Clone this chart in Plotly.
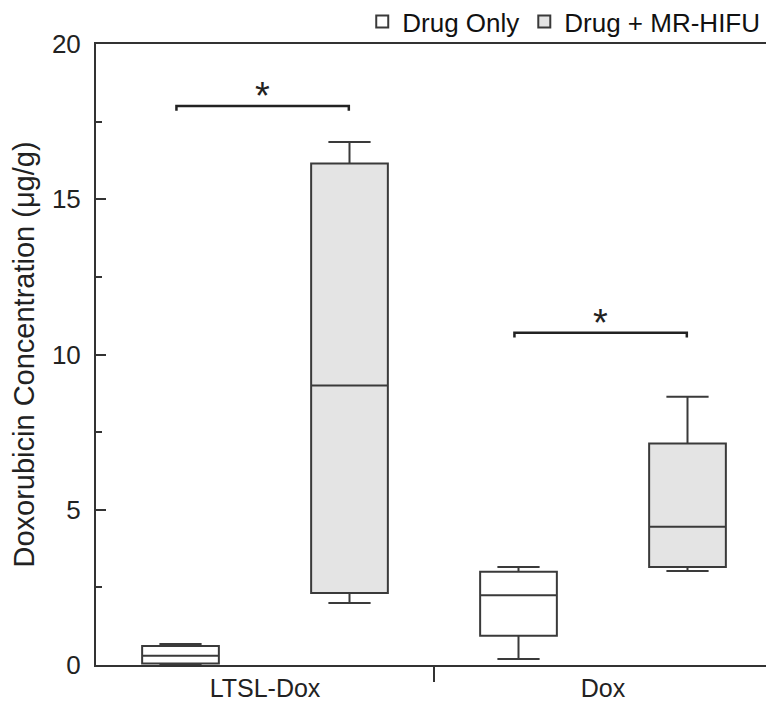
import plotly.graph_objects as go

# ---- data ----
categories = ["LTSL-Dox", "Dox"]
series_names = ["Drug Only", "Drug + MR-HIFU"]

drug_only_lower = [0.00, 0.19]
drug_only_q1 = [0.05, 0.94]
drug_only_median = [0.30, 2.25]
drug_only_q3 = [0.61, 3.00]
drug_only_upper = [0.68, 3.16]

hifu_lower = [2.00, 3.03]
hifu_q1 = [2.32, 3.16]
hifu_median = [9.00, 4.45]
hifu_q3 = [16.15, 7.13]
hifu_upper = [16.84, 8.64]

# significance brackets: (category, bracket height)
sig_categories = ["LTSL-Dox", "Dox"]
sig_levels = [18.0, 10.7]
sig_labels = ["*", "*"]

y_tick_values = [0, 5, 10, 15, 20]

# ---- styles ----
FONT = "Liberation Sans, Arial, Helvetica, sans-serif"
LINE = "#3a3a3a"
AX = "#333333"

fig = go.Figure()
fig.add_trace(go.Box(
    name=series_names[0], x=categories,
    lowerfence=drug_only_lower, q1=drug_only_q1, median=drug_only_median,
    q3=drug_only_q3, upperfence=drug_only_upper,
    fillcolor="#ffffff", line=dict(color=LINE, width=2),
    whiskerwidth=0.55, boxpoints=False, hoverinfo="skip",
))
fig.add_trace(go.Box(
    name=series_names[1], x=categories,
    lowerfence=hifu_lower, q1=hifu_q1, median=hifu_median,
    q3=hifu_q3, upperfence=hifu_upper,
    fillcolor="#e4e4e4", line=dict(color=LINE, width=2),
    whiskerwidth=0.55, boxpoints=False, hoverinfo="skip",
))

shapes = []
annotations = []
for cat, lvl, lab in zip(sig_categories, sig_levels, sig_labels):
    i = categories.index(cat)
    x1, x2 = i - 0.262, i + 0.248
    shapes.append(dict(
        type="path", xref="x", yref="y",
        path=f"M {x1},{lvl - 0.15} L {x1},{lvl} L {x2},{lvl} L {x2},{lvl - 0.15}",
        line=dict(color="#222222", width=2.5),
    ))
    annotations.append(dict(
        x=(x1 + x2) / 2, y=lvl, xref="x", yref="y", text=lab, showarrow=False,
        yanchor="bottom", yshift=-13, font=dict(family=FONT, size=38, color="#222222"),
    ))

# divider tick between the two groups on the x axis
shapes.append(dict(
    type="line", xref="paper", yref="paper", x0=0.5, x1=0.5, y0=0, y1=-17 / 621,
    line=dict(color=AX, width=2),
))

fig.update_layout(
    width=766, height=696,
    margin=dict(l=88, r=2, t=36, b=39, autoexpand=False),
    paper_bgcolor="white", plot_bgcolor="white",
    font=dict(family=FONT, size=24, color="#222222"),
    boxmode="group", boxgap=0.0, boxgroupgap=0.546,
    showlegend=True,
    legend=dict(
        orientation="h", x=0.99, xanchor="right", y=1.036, yanchor="middle",
        font=dict(family=FONT, size=26, color="#111111"),
        bgcolor="rgba(0,0,0,0)", itemclick=False, itemdoubleclick=False,
        traceorder="normal", tracegroupgap=0,
    ),
    shapes=shapes,
    annotations=annotations,
)

fig.update_xaxes(
    type="category", categoryorder="array", categoryarray=categories,
    range=[-0.5, 1.5], showline=True, linecolor=AX, linewidth=2, mirror=True,
    ticks="", showgrid=False, zeroline=False, automargin=False,
    tickfont=dict(family=FONT, size=25, color="#222222"),
)
fig.update_yaxes(
    range=[0, 20], tickmode="array", tickvals=y_tick_values,
    ticks="inside", ticklen=10, tickwidth=2, tickcolor=AX,
    minor=dict(dtick=2.5, tick0=0, ticks="inside", ticklen=6, tickwidth=2, tickcolor=AX),
    showline=True, linecolor=AX, linewidth=2, mirror=True, automargin=False,
    showgrid=False, zeroline=False, ticklabelstandoff=8,
    tickfont=dict(family=FONT, size=26, color="#222222"),
    title=dict(text="Doxorubicin Concentration (μg/g)", standoff=10,
               font=dict(family=FONT, size=29, color="#222222")),
)

fig.write_html("out.html")
